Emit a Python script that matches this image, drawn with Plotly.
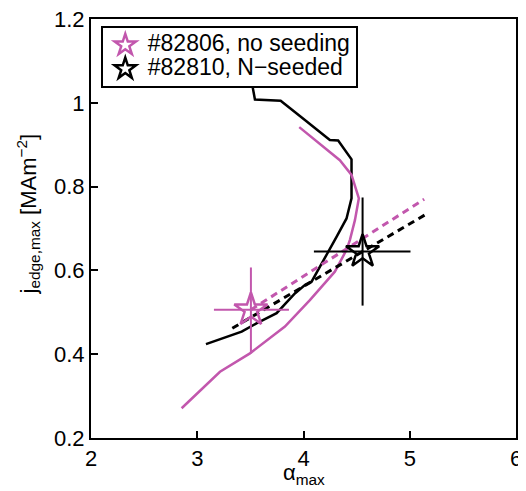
import plotly.graph_objects as go

MAG = "#C257AD"

# black solid curve (#82810)
blk_x = [3.50, 3.521, 3.543, 3.785, 4.013, 4.248, 4.326, 4.452, 4.452, 4.405, 4.311, 4.154, 4.076, 4.013, 3.919, 3.747, 3.590, 3.418, 3.082]
blk_y = [1.10, 1.038, 1.008, 1.005, 0.959, 0.911, 0.910, 0.865, 0.772, 0.724, 0.680, 0.609, 0.573, 0.565, 0.545, 0.498, 0.478, 0.454, 0.424]

# magenta solid curve (#82806)
mag_x = [3.960, 4.342, 4.452, 4.521, 4.484, 4.437, 4.405, 4.295, 4.060, 3.825, 3.496, 3.214, 2.853]
mag_y = [0.942, 0.863, 0.828, 0.772, 0.720, 0.673, 0.649, 0.597, 0.529, 0.466, 0.402, 0.358, 0.271]

# dashed fit lines
mag_dash_x = [3.505, 5.136]
mag_dash_y = [0.506, 0.770]
blk_dash_x = [3.33, 5.167]
blk_dash_y = [0.462, 0.736]

# star points with asymmetric error bars
mag_pt = dict(x=3.505, y=0.506, xlo=3.157, xhi=3.863, ylo=0.402, yhi=0.607)
blk_pt = dict(x=4.556, y=0.645, xlo=4.098, xhi=5.007, ylo=0.516, yhi=0.774)

labels = ["#82806, no seeding", "#82810, N\u2212seeded"]
x_ticks = [2, 3, 4, 5, 6]
y_ticks = [0.2, 0.4, 0.6, 0.8, 1.0, 1.2]
y_ticktext = ["0.2", "0.4", "0.6", "0.8", "1", "1.2"]

FAM = "Liberation Sans, Arial, Helvetica, sans-serif"

fig = go.Figure()
fig.add_trace(go.Scatter(x=blk_x, y=blk_y, mode="lines", line=dict(color="black", width=2.5), showlegend=False))
fig.add_trace(go.Scatter(x=mag_x, y=mag_y, mode="lines", line=dict(color=MAG, width=2.5), showlegend=False))
fig.add_trace(go.Scatter(x=mag_dash_x, y=mag_dash_y, mode="lines", line=dict(color=MAG, width=3, dash="7px,5px"), showlegend=False))
fig.add_trace(go.Scatter(x=blk_dash_x, y=blk_dash_y, mode="lines", line=dict(color="black", width=3, dash="7px,5px"), showlegend=False))

for p, col, lab in [(mag_pt, MAG, labels[0]), (blk_pt, "black", labels[1])]:
    fig.add_trace(go.Scatter(
        x=[p["x"]], y=[p["y"]], mode="markers",
        name='<span style="font-size:23px">' + lab + '</span>',
        marker=dict(symbol="star-open", size=25, color=col, line=dict(width=2.5, color=col)),
        error_x=dict(type="data", symmetric=False, array=[p["xhi"] - p["x"]], arrayminus=[p["x"] - p["xlo"]],
                     color=col, thickness=2, width=0),
        error_y=dict(type="data", symmetric=False, array=[p["yhi"] - p["y"]], arrayminus=[p["y"] - p["ylo"]],
                     color=col, thickness=2, width=0),
    ))

# page has an 8px body margin: shrink the figure so the plot lands where the reference has it
fig.update_layout(
    width=518, height=483,
    margin=dict(l=83, r=10, t=11, b=53),
    plot_bgcolor="white", paper_bgcolor="white",
    font=dict(family=FAM, size=22, color="black"),
    legend=dict(x=0.023, y=0.983, xanchor="left", yanchor="top", bordercolor="black", borderwidth=2,
                bgcolor="white", font=dict(size=16), tracegroupgap=0, itemwidth=35),
    xaxis=dict(range=[2, 6], tickvals=x_ticks, ticks="inside", ticklen=7, tickwidth=2, tickcolor="black",
               showgrid=False, zeroline=False, showline=True, linecolor="black", linewidth=2, mirror=True,
               automargin=False, ticklabeloverflow="allow"),
    yaxis=dict(range=[0.2, 1.2], tickvals=y_ticks, ticktext=y_ticktext,
               ticks="inside", ticklen=7, tickwidth=2, tickcolor="black",
               showgrid=False, zeroline=False, showline=True, linecolor="black", linewidth=2, mirror=True,
               automargin=False, ticklabeloverflow="allow"),
)
# axis titles
fig.add_annotation(text="\u03b1<sub>max</sub>", xref="paper", yref="paper", x=0.5, y=0, xanchor="center",
                   yanchor="top", yshift=-20, showarrow=False, font=dict(size=22, family=FAM))
fig.add_annotation(text="j<sub>edge,max</sub> [MAm<sup>\u22122</sup>]", xref="paper", yref="paper",
                   x=0, y=0.5, xanchor="center", yanchor="middle", xshift=-63, yshift=14, textangle=-90,
                   showarrow=False, font=dict(size=22, family=FAM))
fig.add_annotation(text="EF15.80-3c", xref="paper", yref="paper", x=1.0, y=0.0, xanchor="left", yanchor="bottom",
                   xshift=1, textangle=-90, showarrow=False, font=dict(size=7, family=FAM))

fig.write_html("out.html")
